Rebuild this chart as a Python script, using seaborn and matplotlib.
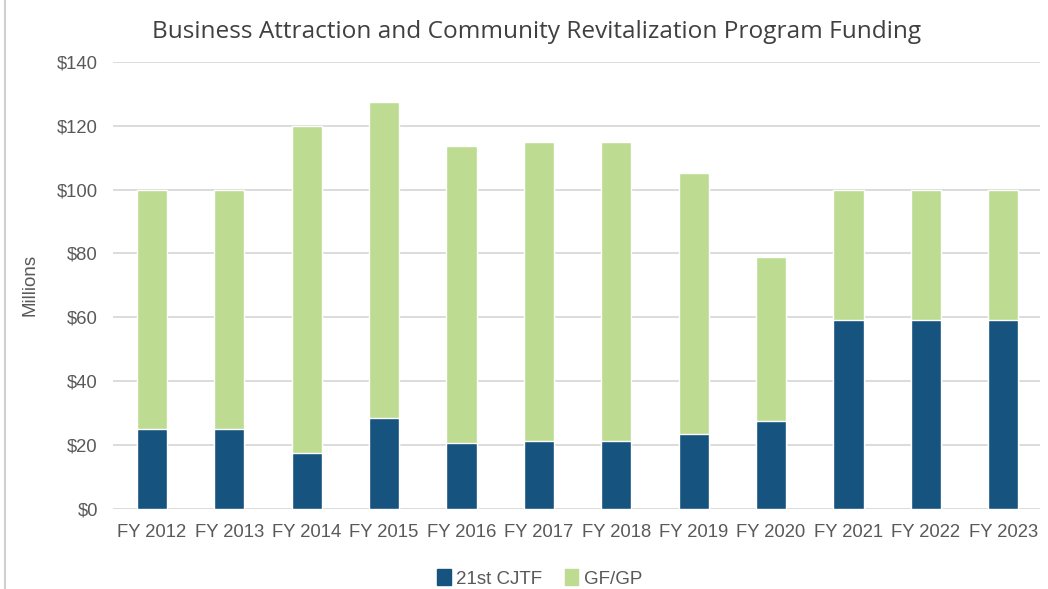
import matplotlib.pyplot as plt
import pandas as pd
import seaborn as sns

years = ['FY 2012', 'FY 2013', 'FY 2014', 'FY 2015', 'FY 2016', 'FY 2017',
         'FY 2018', 'FY 2019', 'FY 2020', 'FY 2021', 'FY 2022', 'FY 2023']
cjtf = [25, 25, 17.5, 28.6, 20.5, 21.4, 21.4, 23.5, 27.6, 59.1, 59.1, 59.1]
gfgp = [75, 75, 102.5, 98.9, 93.2, 93.6, 93.6, 81.6, 51.4, 40.9, 40.9, 40.9]

df = pd.DataFrame({'year': years, 'cjtf': cjtf, 'gfgp': gfgp})
df['total'] = df['cjtf'] + df['gfgp']

sns.set_style('white')
plt.rcParams['font.family'] = ['Liberation Sans', 'DejaVu Sans']

dark = '#16537e'
light = '#bddb91'
text_c = '#595959'

fig = plt.figure(figsize=(10.48, 5.89), dpi=100)
ax = fig.add_axes([0.108, 0.136, 0.884, 0.759])

# 堆叠柱状图：先画总数，再画底部
sns.barplot(data=df, x='year', y='total', color=light, width=0.39, saturation=1, ax=ax, zorder=2)
sns.barplot(data=df, x='year', y='cjtf', color=dark, width=0.39, saturation=1, ax=ax, zorder=3)

ax.set_ylim(0, 140)
ax.set_xlim(-0.5, 11.47)
ax.set_yticks(range(0, 141, 20))
ax.set_yticklabels(['$' + str(v) for v in range(0, 141, 20)])
ax.yaxis.grid(True, color='#d9d9d9', linewidth=1.3, zorder=0)
ax.set_axisbelow(True)
for s in ax.spines.values():
    s.set_visible(False)
ax.tick_params(axis='both', length=0, labelsize=13.3, colors=text_c)
ax.tick_params(axis='y', pad=11)
ax.tick_params(axis='x', pad=11)
ax.set_xlabel('')
ax.set_ylabel('Millions', fontsize=13.5, color=text_c)
ax.yaxis.set_label_coords(-0.081, 0.5)

fig.text(0.512, 0.946, 'Business Attraction and Community Revitalization Program Funding',
         ha='center', va='center', fontsize=17.6, color='#404040', family=['Open Sans', 'DejaVu Sans'])

handles = [plt.Rectangle((0, 0), 1, 1, color=dark), plt.Rectangle((0, 0), 1, 1, color=light)]
fig.legend(handles, ['21st CJTF', 'GF/GP'], loc='center', bbox_to_anchor=(0.515, 0.018),
           ncol=2, frameon=False, fontsize=13.5, labelcolor=text_c, handlelength=0.7,
           handleheight=0.9, handletextpad=0.3, columnspacing=1.2)

fig.add_artist(plt.Line2D([0.005, 0.005], [0, 1], color='#d0d0d0', linewidth=1.5))

fig.savefig('out.png', dpi=100)
